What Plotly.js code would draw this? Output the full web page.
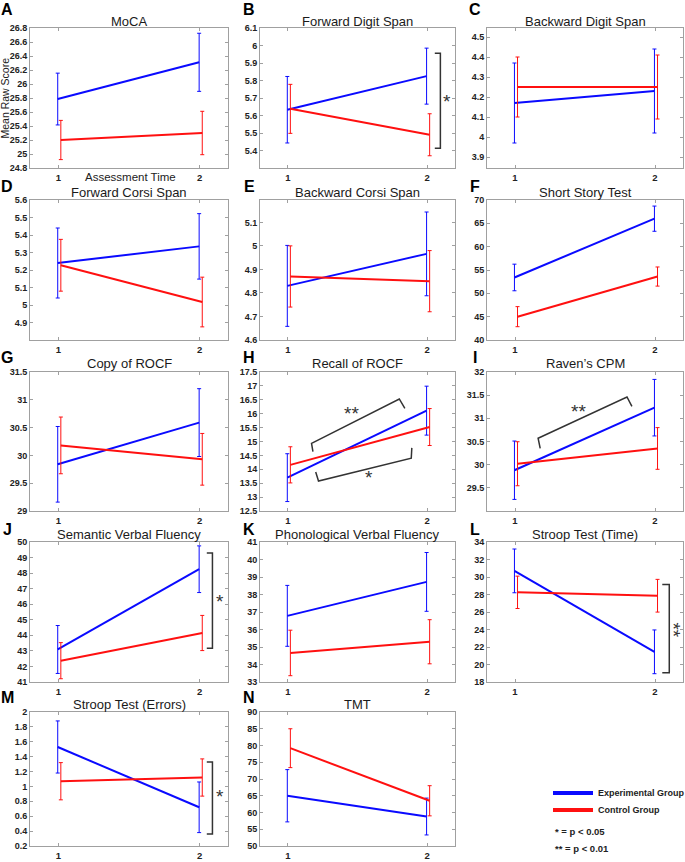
<!DOCTYPE html>
<html>
<head>
<meta charset="utf-8">
<script src="https://cdn.plot.ly/plotly-3.0.1.min.js"></script>
<style>
  body { margin: 0; background: #fff; }
  #chart { width: 685px; height: 862px; }
</style>
</head>
<body>
<div id="chart"></div>
<script>
// Datos (medias y error por grupo, tiempo 1 y 2)
const titles = ['MoCA', 'Forward Digit Span', 'Backward Digit Span', 'Forward Corsi Span', 'Backward Corsi Span',
  'Short Story Test', 'Copy of ROCF', 'Recall of ROCF', 'Raven\u2019s CPM', 'Semantic Verbal Fluency',
  'Phonological Verbal Fluency', 'Stroop Test (Time)', 'Stroop Test (Errors)', 'TMT'];
const letters = ['A', 'B', 'C', 'D', 'E', 'F', 'G', 'H', 'I', 'J', 'K', 'L', 'M', 'N'];
const timePoints = [1, 2];

const expMean = [[25.785, 26.31], [5.633, 5.825], [4.17, 4.23], [5.24, 5.335], [4.83, 4.966], [53.4, 66.0], [29.84, 30.59],
  [13.7, 16.11], [29.88, 31.23], [43.09, 48.25], [36.78, 38.72], [30.7, 21.45], [1.53, 0.72], [65, 58.8]];
const expErr = [[0.37, 0.415], [0.19, 0.16], [0.2, 0.21], [0.2, 0.187], [0.172, 0.178], [2.85, 2.7], [0.68, 0.61],
  [0.86, 0.88], [0.63, 0.61], [1.54, 1.5], [1.74, 1.68], [2.5, 2.5], [0.35, 0.34], [7.8, 5.5]];
const ctlMean = [[25.2, 25.3], [5.638, 5.49], [4.25, 4.25], [5.227, 5.017], [4.87, 4.85], [45.0, 53.6], [30.18, 29.93],
  [14.16, 15.52], [30.02, 30.35], [42.37, 44.15], [34.66, 35.3], [28.25, 27.86], [1.07, 1.12], [79.2, 63.5]];
const ctlErr = [[0.28, 0.31], [0.14, 0.12], [0.15, 0.16], [0.148, 0.142], [0.13, 0.13], [2.15, 2.05], [0.51, 0.465],
  [0.65, 0.665], [0.475, 0.45], [1.16, 1.13], [1.3, 1.26], [1.85, 1.87], [0.25, 0.25], [5.8, 4.5]];

// Ejes Y: rango y marcas
const yRanges = [[24.8, 26.8], [5.3, 6.1], [3.845, 4.545], [4.8, 5.6], [4.6, 5.195], [40, 70], [29, 31.5],
  [12.5, 17.5], [29, 32], [41, 50], [33, 41], [18, 34], [0.2, 2], [50, 90]];
const yTickFirst = [24.8, 5.4, 3.9, 4.9, 4.6, 40, 29, 12.5, 29.5, 41, 33, 18, 0.2, 50];
const yTickLast = [26.8, 6.1, 4.5, 5.6, 5.1, 70, 31.5, 17.5, 32, 50, 41, 34, 2, 90];
const yTickStep = [0.2, 0.1, 0.1, 0.1, 0.1, 5, 0.5, 0.5, 0.5, 1, 1, 2, 0.2, 5];

const groupNames = ['Experimental Group', 'Control Group'];
const pNotes = ['* = p < 0.05', '** = p < 0.01'];

// Corchetes de significancia (coordenadas de cada panel)
const brackets = [
  { panel: 1, pts: [[2.055, 5.956], [2.095, 5.956], [2.095, 5.413], [2.055, 5.413]], label: '*', at: [2.14, 5.68], angle: 0 },
  { panel: 7, pts: [[1.18, 14.64], [1.17, 14.93], [1.80, 16.53], [1.84, 16.19]], label: '**', at: [1.46, 16.0], angle: 0 },
  { panel: 7, pts: [[1.2, 13.9], [1.22, 13.58], [1.886, 14.4], [1.89, 14.77]], label: '*', at: [1.58, 13.7], angle: 0 },
  { panel: 8, pts: [[1.18, 30.35], [1.165, 30.57], [1.80, 31.46], [1.835, 31.26]], label: '**', at: [1.456, 31.15], angle: 0 },
  { panel: 9, pts: [[2.05, 49.3], [2.09, 49.3], [2.09, 43.17], [2.05, 43.17]], label: '*', at: [2.14, 46.2], angle: 0 },
  { panel: 11, pts: [[2.052, 29.15], [2.102, 29.15], [2.102, 19.05], [2.052, 19.05]], label: '**', at: [2.135, 23.9], angle: 90 },
  { panel: 12, pts: [[2.05, 1.33], [2.09, 1.33], [2.09, 0.36], [2.05, 0.36]], label: '*', at: [2.14, 0.86], angle: 0 }
];

const W = 685, H = 862;
const colPx = [[30, 228], [260, 455], [487, 683]];
const rowPx = [[28, 168], [200, 340], [372, 511], [542, 682], [712, 846]];
const titleY = [22, 192, 364, 534, 704];
const letterY = [9, 186, 357, 529, 697];
const letterX = [7, 249, 475];

const BLUE = '#0a0aff';
const RED = '#ff1010';
const txtFont = 'Liberation Sans, Arial, sans-serif';

const px = p => p / W;
const py = p => 1 - p / H;
const bold = t => '<b>' + t + '</b>';

const data = [];
const annotations = [];
const shapes = [];
const layout = {
  width: W, height: H,
  margin: { l: 0, r: 0, t: 0, b: 0 },
  paper_bgcolor: '#fff', plot_bgcolor: '#fff',
  showlegend: false,
  font: { family: txtFont, color: '#222' }
};

titles.forEach((title, i) => {
  const row = Math.floor(i / 3), col = i % 3;
  const s = i === 0 ? '' : String(i + 1);

  // Marcas del eje Y
  const tv = [];
  for (let v = yTickFirst[i]; v <= yTickLast[i] + 1e-9; v += yTickStep[i]) tv.push(+v.toFixed(3));

  const axisBase = {
    showline: true, linecolor: '#a0a0a0', linewidth: 1, mirror: 'ticks',
    ticks: 'inside', ticklen: 3, tickcolor: '#a0a0a0',
    showgrid: false, zeroline: false, fixedrange: true,
    tickfont: { family: txtFont, size: 9, color: '#222' }
  };

  layout['xaxis' + s] = Object.assign({}, axisBase, {
    domain: [px(colPx[col][0]), px(colPx[col][1])],
    anchor: 'y' + s, range: [0.8, 2.2],
    tickvals: timePoints, ticktext: timePoints.map(t => bold(t)), ticklabelstandoff: 1,
    tickfont: { family: txtFont, size: 9.5, color: '#222' }
  });
  layout['yaxis' + s] = Object.assign({}, axisBase, {
    domain: [py(rowPx[row][1]), py(rowPx[row][0])],
    anchor: 'x' + s, range: yRanges[i],
    tickvals: tv, ticktext: tv.map(v => bold(v)), ticklabelstandoff: 0
  });

  data.push({
    x: timePoints.map(t => t - 0.004), y: expMean[i], xaxis: 'x' + s, yaxis: 'y' + s,
    type: 'scatter', mode: 'lines', line: { color: BLUE, width: 2 },
    error_y: { type: 'data', array: expErr[i], color: BLUE, thickness: 1, width: 2 },
    name: groupNames[0], hoverinfo: 'y'
  });
  data.push({
    x: timePoints.map(t => t + 0.018), y: ctlMean[i], xaxis: 'x' + s, yaxis: 'y' + s,
    type: 'scatter', mode: 'lines', line: { color: RED, width: 2 },
    error_y: { type: 'data', array: ctlErr[i], color: RED, thickness: 1, width: 2 },
    name: groupNames[1], hoverinfo: 'y'
  });

  annotations.push({
    xref: 'paper', yref: 'paper',
    x: px((colPx[col][0] + colPx[col][1]) / 2), y: py(titleY[row]),
    xanchor: 'center', yanchor: 'middle', showarrow: false,
    text: title, font: { family: txtFont, size: 13, color: '#1a1a1a' }
  });
  annotations.push({
    xref: 'paper', yref: 'paper',
    x: px(letterX[col]), y: py(letterY[row]),
    xanchor: 'center', yanchor: 'middle', showarrow: false,
    text: bold(letters[i]), font: { family: txtFont, size: 16, color: '#000' }
  });
});

// Titulos de ejes del panel A
annotations.push({
  xref: 'paper', yref: 'paper', x: px(4.5), y: py(98), textangle: -90,
  xanchor: 'center', yanchor: 'middle', showarrow: false,
  text: 'Mean Raw Score', font: { family: txtFont, size: 10.5, color: '#222' }
});
annotations.push({
  xref: 'paper', yref: 'paper', x: px(130), y: py(177),
  xanchor: 'center', yanchor: 'middle', showarrow: false,
  text: 'Assessment Time', font: { family: txtFont, size: 11.5, color: '#222' }
});

// Corchetes
brackets.forEach(b => {
  const s = b.panel === 0 ? '' : String(b.panel + 1);
  const path = b.pts.map((p, k) => (k === 0 ? 'M' : 'L') + p[0] + ',' + p[1]).join(' ');
  shapes.push({ type: 'path', xref: 'x' + s, yref: 'y' + s, path: path, line: { color: '#333', width: 1.5 } });
  annotations.push({
    xref: 'x' + s, yref: 'y' + s, x: b.at[0], y: b.at[1], textangle: b.angle,
    xanchor: 'center', yanchor: 'middle', showarrow: false,
    text: b.label, font: { family: txtFont, size: 19, color: '#333' }
  });
});

// Leyenda manual
[BLUE, RED].forEach((c, k) => {
  const yy = py(793 + k * 17);
  shapes.push({ type: 'line', xref: 'paper', yref: 'paper', x0: px(553), x1: px(593), y0: yy, y1: yy, line: { color: c, width: 4 } });
  annotations.push({
    xref: 'paper', yref: 'paper', x: px(596), y: yy, xanchor: 'left', yanchor: 'middle', showarrow: false,
    text: bold(groupNames[k]), font: { family: txtFont, size: 9, color: '#222' }
  });
});
pNotes.forEach((t, k) => {
  annotations.push({
    xref: 'paper', yref: 'paper', x: px(553), y: py(831 + k * 17), xanchor: 'left', yanchor: 'middle', showarrow: false,
    text: bold(t), font: { family: txtFont, size: 9.5, color: '#222' }
  });
});

layout.annotations = annotations;
layout.shapes = shapes;

Plotly.newPlot('chart', data, layout, { displayModeBar: false, staticPlot: true });
</script>
</body>
</html>
